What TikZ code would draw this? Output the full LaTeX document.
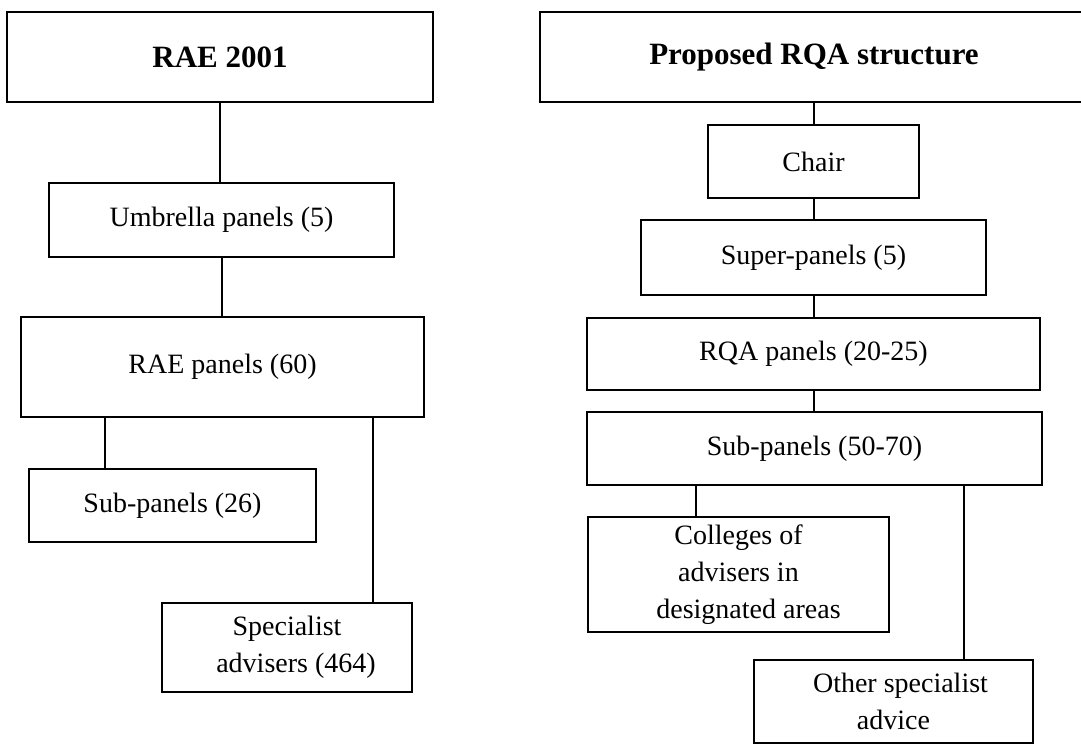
\documentclass[tikz,border=0pt]{standalone}
\usepackage{fontspec}
\setmainfont{Liberation Serif}
\begin{document}
\begin{tikzpicture}[x=1pt, y=-1pt,
  box/.style={draw, line width=2pt, rectangle, inner sep=0pt, align=center,
              font=\fontsize{28}{37}\selectfont},
  headbox/.style={box, font=\fontsize{31}{37}\selectfont\bfseries},
  link/.style={line width=2pt}]
\useasboundingbox (0,0) rectangle (1081,744);
\fill[white] (0,0) rectangle (1081,744);

% ---- RAE 2001 column ----
\node[headbox, minimum width=426pt, minimum height=90pt] (rae) at (220,57) {RAE 2001};
\node[box, minimum width=345pt, minimum height=74pt] (umb) at (221.5,220) {Umbrella panels (5)};
\node[box, minimum width=403pt, minimum height=100pt] (raep) at (222.5,367) {RAE panels (60)};
\node[box, minimum width=287pt, minimum height=73pt] (subl) at (172.5,505.5) {Sub-panels (26)};
\node[box, minimum width=250pt, minimum height=89pt] (spec) at (287,647) {Specialist\\ \hspace*{18pt}advisers (464)};

\coordinate (kl1) at (105,0);
\coordinate (kl2) at (372.5,0);
\draw[link] (rae.south) -- (rae.south |- umb.north);
\draw[link] (umb.south) -- (umb.south |- raep.north);
\draw[link] (raep.south -| kl1) -- (subl.north -| kl1);
\draw[link] (raep.south -| kl2) -- (spec.north -| kl2);

% ---- Proposed RQA column ----
\node[headbox, minimum width=548pt, minimum height=90pt] (rqa) at (814,57) {Proposed RQA structure};
\node[box, minimum width=211pt, minimum height=73pt] (chair) at (813.5,161.5) {Chair};
\node[box, minimum width=345pt, minimum height=75pt] (super) at (813.5,257.5) {Super-panels (5)};
\node[box, minimum width=453pt, minimum height=72pt] (rqap) at (813.5,354) {RQA panels (20-25)};
\node[box, minimum width=455pt, minimum height=73pt] (subr) at (814.5,448.5) {Sub-panels (50-70)};
\node[box, minimum width=301pt, minimum height=115pt] (coll) at (738.5,574.5) {Colleges of\\ advisers in\\ \hspace*{20pt}designated areas};
\node[box, minimum width=279pt, minimum height=83pt] (other) at (893.5,701.5) {\hspace*{14pt}Other specialist\\ advice};

\coordinate (kr1) at (696,0);
\coordinate (kr2) at (964,0);
\draw[link] (rqa.south) -- (rqa.south |- chair.north);
\draw[link] (chair.south) -- (chair.south |- super.north);
\draw[link] (super.south) -- (super.south |- rqap.north);
\draw[link] (rqap.south) -- (rqap.south |- subr.north);
\draw[link] (subr.south -| kr1) -- (coll.north -| kr1);
\draw[link] (subr.south -| kr2) -- (other.north -| kr2);
\end{tikzpicture}
\end{document}
